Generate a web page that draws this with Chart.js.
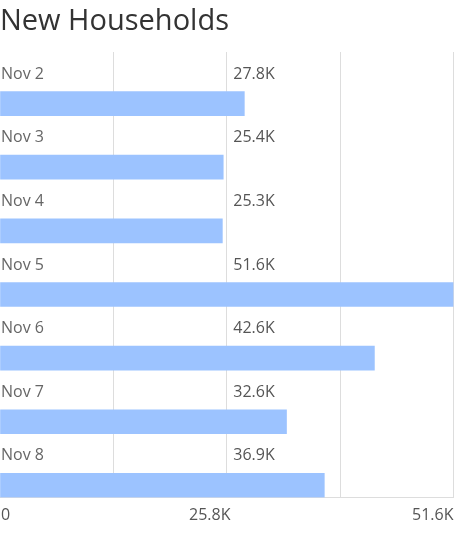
<!DOCTYPE html>
<html><head><meta charset="utf-8">
<script src="https://cdn.jsdelivr.net/npm/chart.js@4.4.0/dist/chart.umd.min.js"></script>
<style>html,body{margin:0;padding:0;background:#fff;overflow:hidden}#wrap{width:457px;height:544px;position:relative}</style>
</head><body><div id="wrap"><canvas id="c"></canvas></div>
<script>
const categories = ['Nov 2', 'Nov 3', 'Nov 4', 'Nov 5', 'Nov 6', 'Nov 7', 'Nov 8'];
const households = [27800, 25400, 25300, 51600, 42600, 32600, 36900];
const valueLabels = ['27.8K', '25.4K', '25.3K', '51.6K', '42.6K', '32.6K', '36.9K'];
const axisMax = 51600;
const axisStep = 12900;
const tickValues = [0, 25800, 51600];
const tickLabels = ['0', '25.8K', '51.6K'];

const BAR_POS = 0.81; // bar sits near the bottom of each row band
const FONT = '"Open Sans", sans-serif';

const labelPlugin = {
  id: 'rowLabels',
  afterDatasetsDraw(chart) {
    const ctx = chart.ctx;
    const area = chart.chartArea;
    const mid = (area.left + area.right) / 2;
    const meta = chart.getDatasetMeta(0);
    ctx.save();
    ctx.font = '16px ' + FONT;
    ctx.textBaseline = 'middle';
    meta.data.forEach((bar, i) => {
      const p = bar.getProps(['y', 'height'], true);
      const y = p.y - p.height / 2 - 17.5;
      ctx.textAlign = 'left';
      ctx.fillStyle = '#666';
      ctx.fillText(categories[i], area.left + 1, y);
      ctx.fillStyle = '#555';
      ctx.fillText(valueLabels[i], mid + 6.5, y);
    });
    const xs = chart.scales.x;
    const ty = area.bottom + 18;
    ctx.fillStyle = '#555';
    tickValues.forEach((v, k) => {
      const px = xs.getPixelForValue(v);
      if (k === 0) { ctx.textAlign = 'left'; ctx.fillText(tickLabels[k], px + 1, ty); }
      else if (k === tickValues.length - 1) { ctx.textAlign = 'right'; ctx.fillText(tickLabels[k], px, ty); }
      else { ctx.textAlign = 'center'; ctx.fillText(tickLabels[k], px - 17, ty); }
    });
    ctx.restore();
  }
};

new Chart(document.getElementById('c'), {
  type: 'bar',
  data: {
    datasets: [{
      data: households.map((v, i) => ({ x: v, y: i + BAR_POS })),
      backgroundColor: '#9cc3ff',
      borderWidth: 0,
      barThickness: 24
    }]
  },
  options: {
    indexAxis: 'y',
    responsive: true,
    maintainAspectRatio: false,
    animation: false,
    layout: { padding: { left: 0, right: 3.5, top: 0, bottom: 46.5 } },
    plugins: {
      legend: { display: false },
      tooltip: { enabled: false },
      title: {
        display: true,
        text: 'New Households',
        align: 'start',
        color: '#333',
        font: { family: FONT, size: 29, weight: 'normal' },
        padding: { top: 4, bottom: 13.2 }
      }
    },
    scales: {
      y: { type: 'linear', min: 0, max: 7, reverse: true, display: false, offset: false, grid: { offset: false } },
      x: {
        type: 'linear', min: 0, max: axisMax,
        ticks: { display: false, stepSize: axisStep },
        grid: {
          drawTicks: false,
          color: ctx => (ctx.tick && ctx.tick.value === 0) ? 'rgba(0,0,0,0)' : '#dddddd',
          lineWidth: 1
        },
        border: { display: true, color: '#dddddd' }
      }
    }
  },
  plugins: [labelPlugin]
});
</script></body></html>
